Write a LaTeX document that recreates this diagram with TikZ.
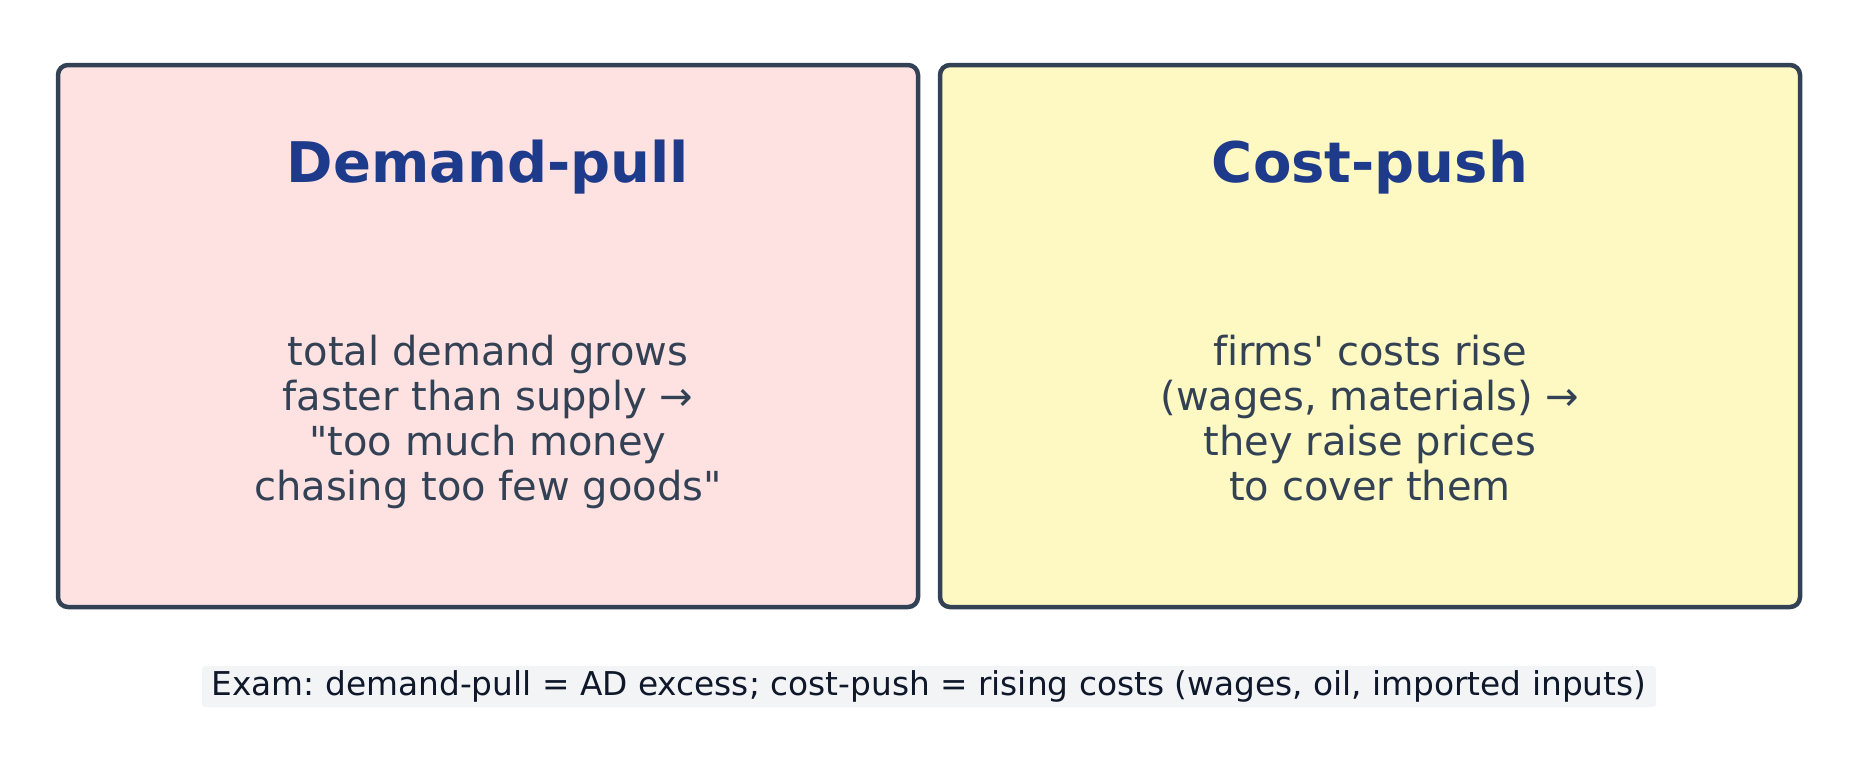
\documentclass[tikz,border=0pt]{standalone}
\usepackage{fontspec}
\setmainfont{DejaVu Sans}[Ligatures={TeXOff,CommonOff}]
\usepackage{tikz}
\usetikzlibrary{positioning}
\usepackage{xcolor}
\definecolor{edge}{HTML}{334155}
\definecolor{headblue}{HTML}{1E3A8A}
\definecolor{pinkbg}{HTML}{FEE2E2}
\definecolor{yellowbg}{HTML}{FEF9C3}
\definecolor{notebg}{HTML}{F3F4F6}
\definecolor{notetext}{HTML}{0F172A}
\frenchspacing

\begin{document}
\begin{tikzpicture}[x=0.5pt,y=-0.5pt,
    panel/.style={draw=edge,line width=2.25pt,rounded corners=5pt,minimum width=430pt,minimum height=271pt,inner sep=0pt},
    head/.style={text=headblue,font=\fontsize{28pt}{32pt}\selectfont\bfseries,anchor=base,inner sep=0pt},
    body/.style={text=edge,font=\fontsize{20pt}{22.5pt}\selectfont,align=center,anchor=base,inner sep=0pt},
    note/.style={fill=notebg,text=notetext,rounded corners=1.5pt,font=\fontsize{16.4pt}{18pt}\selectfont,minimum width=727pt,minimum height=20.5pt,inner sep=0pt}]
    \useasboundingbox (0,0) rectangle (1859,773);
    \node[panel,fill=pinkbg] (dp) at (488,336) {};
    \node[panel,fill=yellowbg] (cp) at (1370,336) {};
    \node[head] (dph) at (488,182) {Demand-pull};
    \node[head] (cph) at (1370,182) {Cost-push};
    % base anchor sits on the last line
    \node[body] (dpb) at (488,500) {total demand grows\\faster than supply →\\"too much money\\chasing too few goods"};
    \node[body] (cpb) at (1370,500) {firms' costs rise\\(wages, materials) →\\they raise prices\\to cover them};
    \node[note] (exam) at (929,686.5) {Exam: demand-pull = AD excess; cost-push = rising costs (wages, oil, imported inputs)};
\end{tikzpicture}
\end{document}
